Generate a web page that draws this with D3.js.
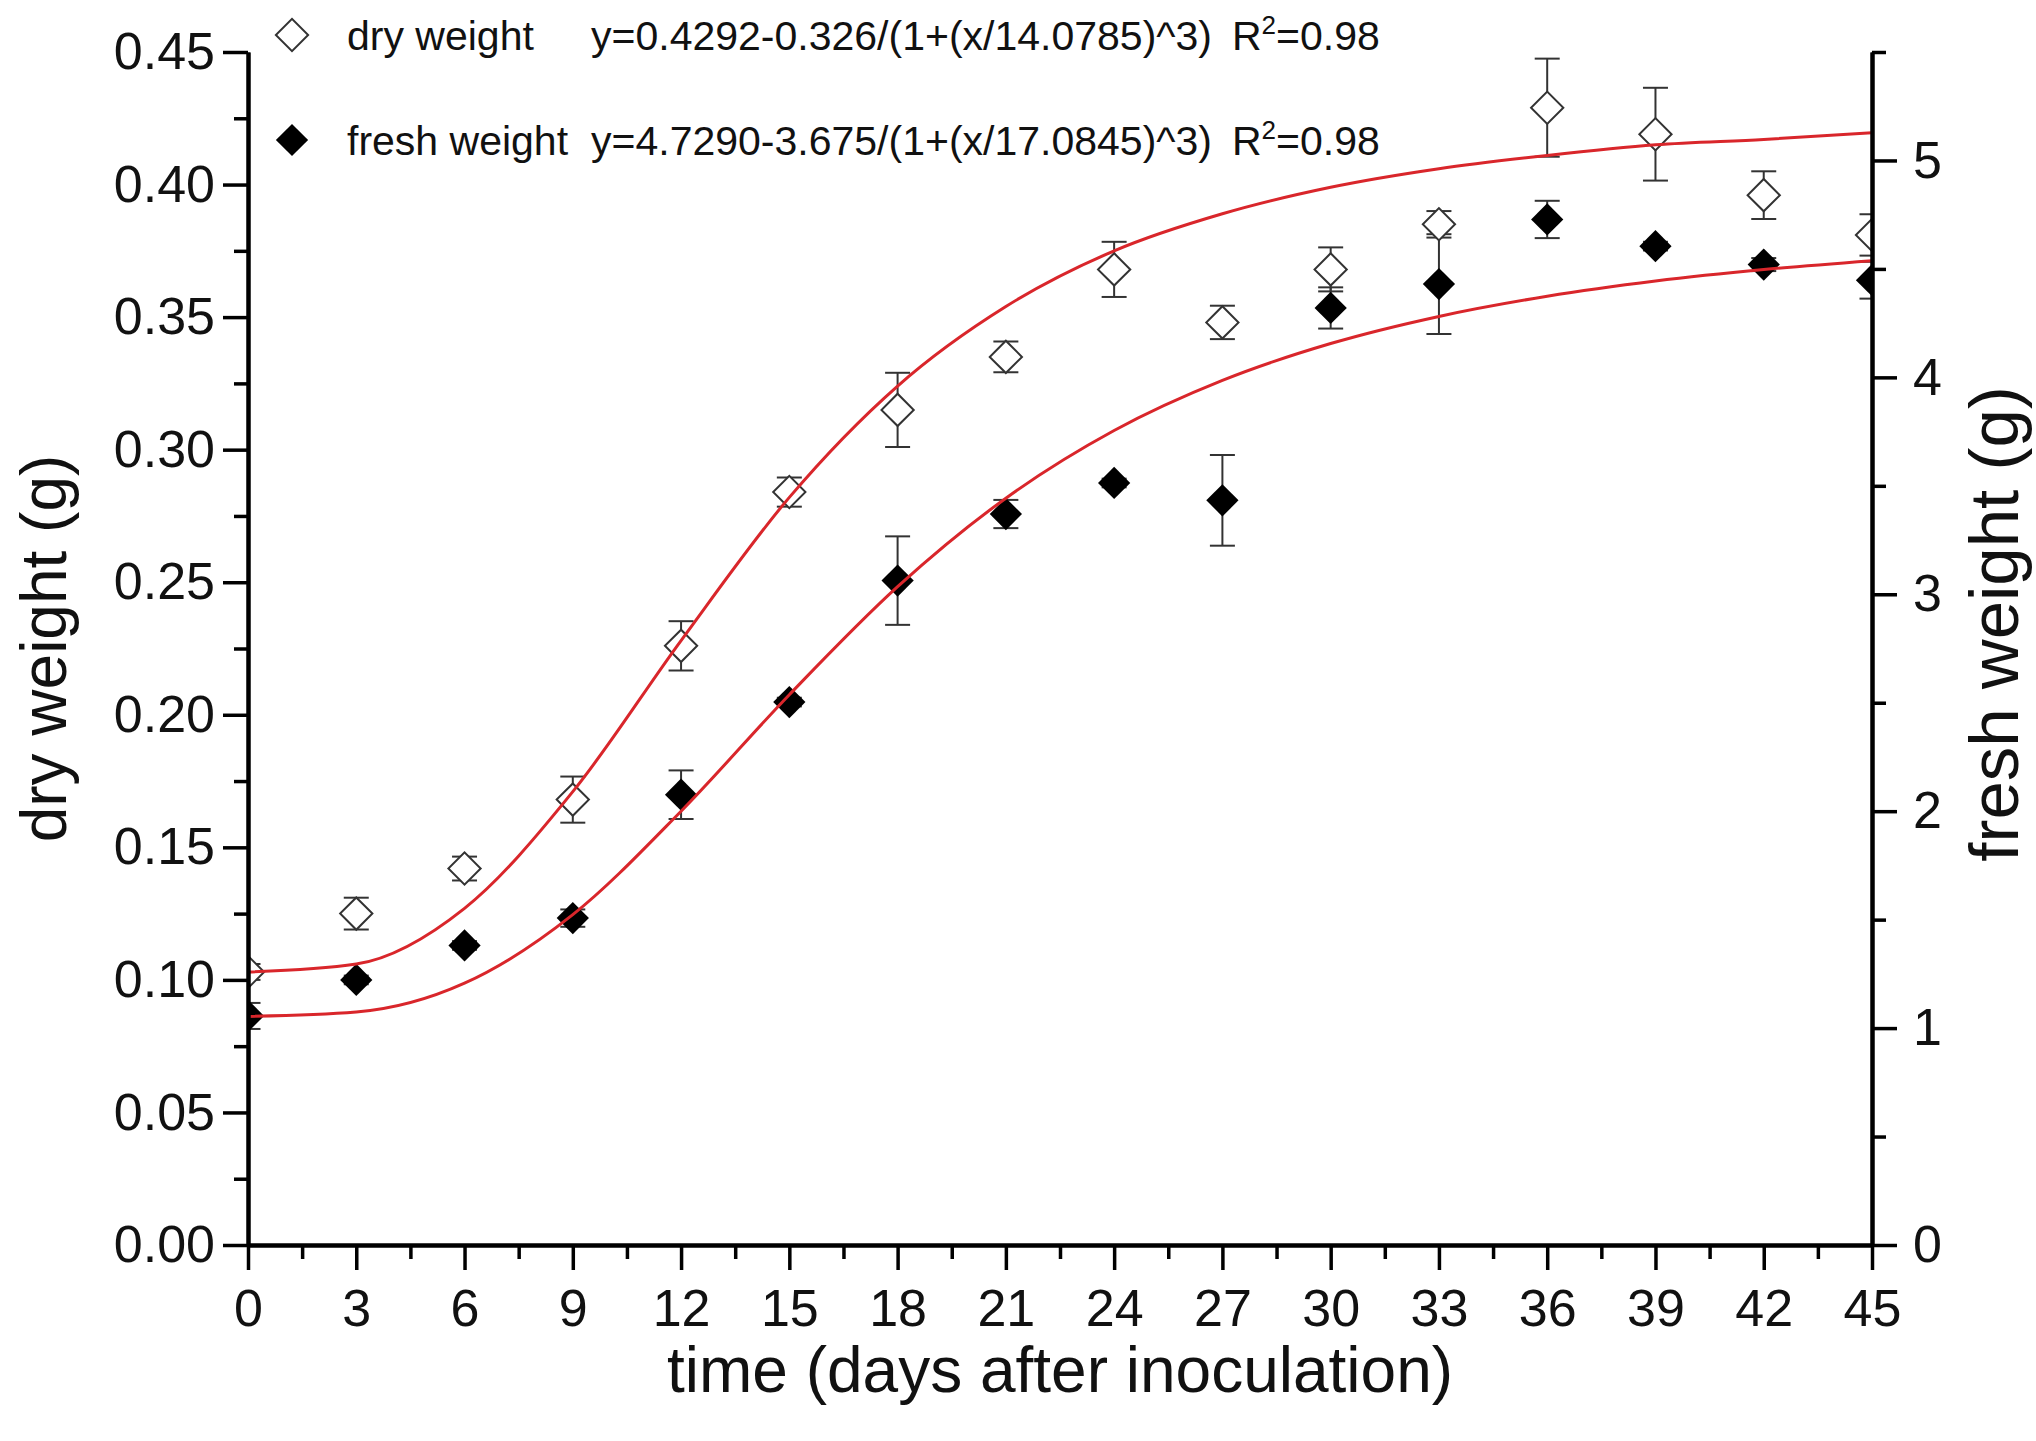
<!DOCTYPE html>
<html>
<head>
<meta charset="utf-8">
<script src="https://cdn.jsdelivr.net/npm/d3@7/dist/d3.min.js"></script>
<style>
  body { margin: 0; background: #fff; }
  svg { display: block; font-family: "Liberation Sans", Arial, sans-serif; }
</style>
</head>
<body>
<div id="chart"></div>
<script>
// sampling days
const days = [0, 3, 6, 9, 12, 15, 18, 21, 24, 27, 30, 33, 36, 39, 42, 45];

// dry weight (g), left axis
const dryMean = [0.103, 0.125, 0.142, 0.168, 0.226, 0.284, 0.315, 0.335, 0.368, 0.348, 0.368, 0.385, 0.429, 0.419, 0.396, 0.381];
const dryErr  = [0.003, 0.006, 0.0045, 0.0087, 0.0093, 0.0055, 0.014, 0.0058, 0.0104, 0.0063, 0.0083, 0.005, 0.0185, 0.0175, 0.009, 0.0078];

// fresh weight (g), right axis
const freshMean = [1.056, 1.222, 1.381, 1.507, 2.076, 2.503, 3.063, 3.37, 3.513, 3.433, 4.32, 4.43, 4.728, 4.605, 4.52, 4.448];
const freshErr  = [0.06, 0.02, 0.02, 0.04, 0.112, 0.02, 0.204, 0.065, 0.02, 0.209, 0.095, 0.23, 0.086, 0.02, 0.03, 0.085];

// fitted curves (same days)
const dryFit   = [0.103, 0.106, 0.127, 0.171, 0.228, 0.282, 0.324, 0.354, 0.375, 0.389, 0.399, 0.406, 0.411, 0.415, 0.417, 0.4195];
const freshFit = [1.054, 1.074, 1.207, 1.523, 2.0, 2.537, 3.035, 3.443, 3.755, 3.986, 4.156, 4.281, 4.374, 4.444, 4.497, 4.538];

// ticks
const xTicks = d3.range(0, 46, 3);
const xMinor = d3.range(1.5, 45, 3);
const yLTicks = [0, 0.05, 0.10, 0.15, 0.20, 0.25, 0.30, 0.35, 0.40, 0.45];
const yLMinor = [0.025, 0.075, 0.125, 0.175, 0.225, 0.275, 0.325, 0.375, 0.425];
const yRTicks = [0, 1, 2, 3, 4, 5];
const yRMinor = [0.5, 1.5, 2.5, 3.5, 4.5, 5.5];

// legend rows
const legendNames = ["dry weight", "fresh weight"];
const legendEqs = ["y=0.4292-0.326/(1+(x/14.0785)^3)", "y=4.7290-3.675/(1+(x/17.0845)^3)"];

const W = 2036, H = 1441;
const m = { left: 248, right: 1872, top: 52, bottom: 1245 };

const svg = d3.select('#chart').append('svg')
    .attr('width', W)
    .attr('height', H);

const x = d3.scaleLinear().domain([0, 45]).range([m.left, m.right]);
const yL = d3.scaleLinear().domain([0, 0.45]).range([m.bottom, m.top]);
const yR = d3.scaleLinear().domain([0, 5.5]).range([m.bottom, m.top]);

svg.append('clipPath').attr('id', 'plot-clip')
  .append('rect')
    .attr('x', m.left).attr('y', m.top - 30)
    .attr('width', m.right - m.left).attr('height', m.bottom - m.top + 30);

const plot = svg.append('g').attr('clip-path', 'url(#plot-clip)');

const dry = days.map((d, i) => ({ x: d, y: dryMean[i], e: dryErr[i] }));
const fresh = days.map((d, i) => ({ x: d, y: freshMean[i], e: freshErr[i] }));

// error bars
function errorBars(data, y) {
    const g = plot.append('g')
        .attr('stroke', '#333')
        .attr('stroke-width', 2)
        .attr('fill', 'none');
    g.selectAll('line.v').data(data).join('line').attr('class', 'v')
        .attr('x1', d => x(d.x)).attr('x2', d => x(d.x))
        .attr('y1', d => y(d.y - d.e)).attr('y2', d => y(d.y + d.e));
    g.selectAll('line.top').data(data).join('line').attr('class', 'top')
        .attr('x1', d => x(d.x) - 12.5).attr('x2', d => x(d.x) + 12.5)
        .attr('y1', d => y(d.y + d.e)).attr('y2', d => y(d.y + d.e));
    g.selectAll('line.bot').data(data).join('line').attr('class', 'bot')
        .attr('x1', d => x(d.x) - 12.5).attr('x2', d => x(d.x) + 12.5)
        .attr('y1', d => y(d.y - d.e)).attr('y2', d => y(d.y - d.e));
}
errorBars(dry, yL);
errorBars(fresh, yR);

// diamonds = squares turned 45 degrees
const diamond = d3.symbol().type(d3.symbolSquare).size(520);

plot.selectAll('path.dry').data(dry).join('path').attr('class', 'dry')
    .attr('transform', d => `translate(${x(d.x)},${yL(d.y)}) rotate(45)`)
    .attr('d', diamond)
    .attr('fill', '#fff')
    .attr('stroke', '#333')
    .attr('stroke-width', 2);

plot.selectAll('path.fresh').data(fresh).join('path').attr('class', 'fresh')
    .attr('transform', d => `translate(${x(d.x)},${yR(d.y)}) rotate(45)`)
    .attr('d', diamond)
    .attr('fill', '#000');

// fitted curves
const lineL = d3.line().x((d, i) => x(days[i])).y(d => yL(d)).curve(d3.curveMonotoneX);
const lineR = d3.line().x((d, i) => x(days[i])).y(d => yR(d)).curve(d3.curveMonotoneX);
plot.append('path').attr('d', lineL(dryFit))
    .attr('fill', 'none').attr('stroke', '#d9262b').attr('stroke-width', 3);
plot.append('path').attr('d', lineR(freshFit))
    .attr('fill', 'none').attr('stroke', '#d9262b').attr('stroke-width', 3);

// axes
function styleAxis(g) {
    g.select('.domain').attr('stroke', '#000').attr('stroke-width', 4);
    g.selectAll('.tick line').attr('stroke', '#000').attr('stroke-width', 3.5);
    g.selectAll('.tick text').attr('fill', '#111').attr('font-size', 52)
        .attr('font-family', '"Liberation Sans", Arial, sans-serif');
}

svg.append('g').attr('transform', `translate(0,${m.bottom})`)
    .call(d3.axisBottom(x).tickValues(xMinor).tickSize(14).tickSizeOuter(0).tickFormat(''))
    .call(styleAxis);
svg.append('g').attr('transform', `translate(0,${m.bottom})`)
    .call(d3.axisBottom(x).tickValues(xTicks).tickSize(25).tickSizeOuter(0).tickPadding(19).tickFormat(d3.format('d')))
    .call(styleAxis);

svg.append('g').attr('transform', `translate(${m.left},0)`)
    .call(d3.axisLeft(yL).tickValues(yLMinor).tickSize(14).tickSizeOuter(0).tickFormat(''))
    .call(styleAxis);
svg.append('g').attr('transform', `translate(${m.left},0)`)
    .call(d3.axisLeft(yL).tickValues(yLTicks).tickSize(25).tickSizeOuter(0).tickPadding(8).tickFormat(d3.format('.2f')))
    .call(styleAxis);

svg.append('g').attr('transform', `translate(${m.right},0)`)
    .call(d3.axisRight(yR).tickValues(yRMinor).tickSize(14).tickSizeOuter(0).tickFormat(''))
    .call(styleAxis);
svg.append('g').attr('transform', `translate(${m.right},0)`)
    .call(d3.axisRight(yR).tickValues(yRTicks).tickSize(25).tickSizeOuter(0).tickPadding(16).tickFormat(d3.format('d')))
    .call(styleAxis);

// axis titles
svg.append('text')
    .attr('x', (m.left + m.right) / 2).attr('y', 1392)
    .attr('text-anchor', 'middle')
    .attr('font-size', 64).attr('fill', '#111')
    .text('time (days after inoculation)');

svg.append('text')
    .attr('transform', `translate(66,${(m.top + m.bottom) / 2}) rotate(-90)`)
    .attr('text-anchor', 'middle')
    .attr('font-size', 64).attr('fill', '#111')
    .text('dry weight (g)');

svg.append('text')
    .attr('transform', `translate(2018,624) rotate(-90)`)
    .attr('text-anchor', 'middle')
    .attr('font-size', 69).attr('fill', '#111')
    .text('fresh weight (g)');

// legend
const legend = svg.append('g').attr('font-size', 41).attr('fill', '#111');
const legendY = [35, 140];
legendNames.forEach((name, i) => {
    legend.append('path')
        .attr('transform', `translate(292,${legendY[i]}) rotate(45)`)
        .attr('d', diamond)
        .attr('fill', i === 0 ? '#fff' : '#000')
        .attr('stroke', i === 0 ? '#333' : 'none')
        .attr('stroke-width', 2);
    legend.append('text').attr('x', 347).attr('y', legendY[i] + 15).text(name);
    legend.append('text').attr('x', 591).attr('y', legendY[i] + 15).text(legendEqs[i]);
    const r = legend.append('text').attr('x', 1232).attr('y', legendY[i] + 15);
    r.append('tspan').text('R');
    r.append('tspan').attr('dy', -16).attr('font-size', 26).text('2');
    r.append('tspan').attr('dy', 16).text('=0.98');
});
</script>
</body>
</html>
